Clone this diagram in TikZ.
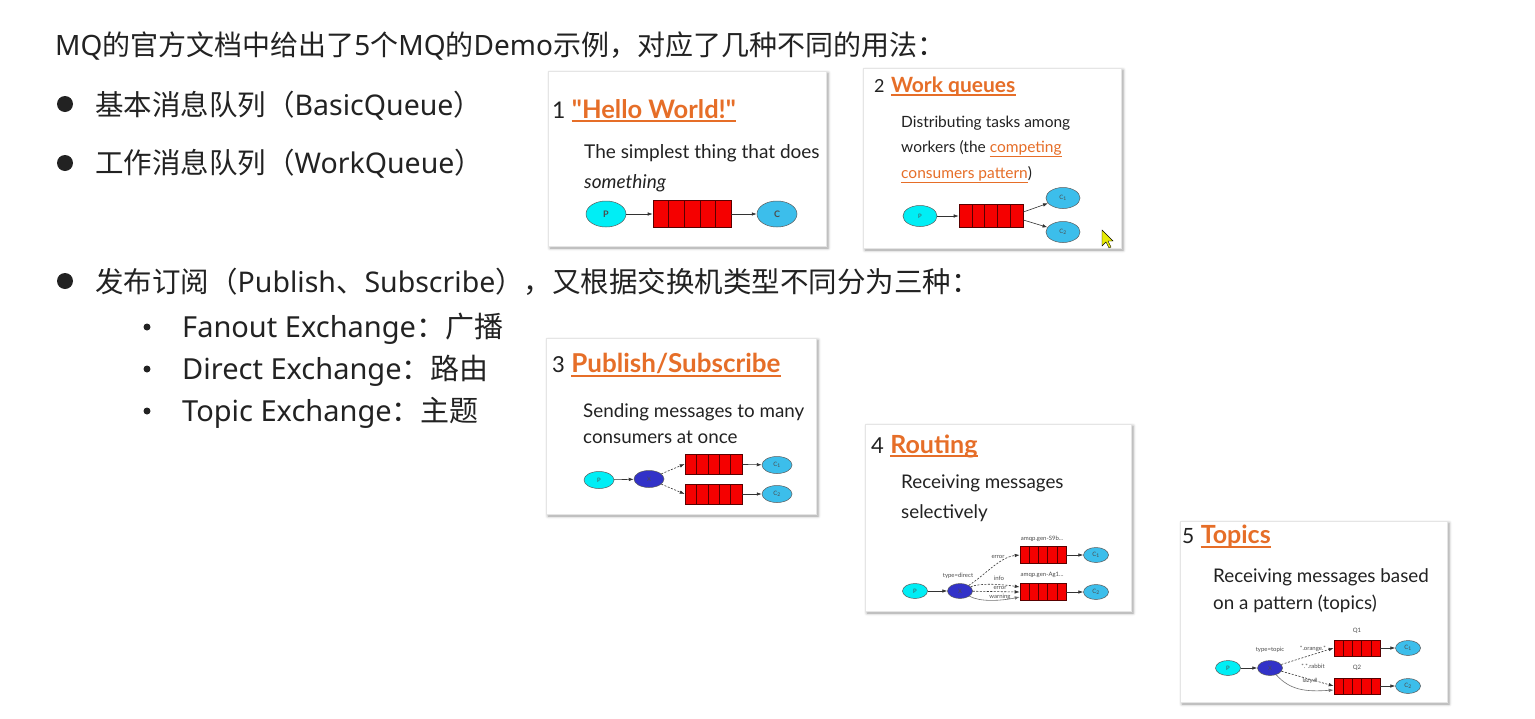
\documentclass[tikz,border=0pt]{standalone}
\usepackage{fontspec}
\setmainfont{Noto Sans CJK SC}
\newfontfamily\lat{Noto Sans}
\newfontfamily\rale{Lato}
\usetikzlibrary{arrows.meta,positioning,shapes.geometric,calc,shadows.blur}
\definecolor{mqtext}{RGB}{34,34,34}
\definecolor{mqorange}{RGB}{230,110,40}
\definecolor{mqcyan}{RGB}{0,238,245}
\definecolor{mqblue}{RGB}{60,190,235}
\definecolor{mqx}{RGB}{50,50,200}
\definecolor{mqred}{RGB}{245,0,0}

\begin{document}
\begin{tikzpicture}[x=1pt, y=-1pt,
    line/.style={anchor=base west, inner sep=0, text=mqtext, font=\fontsize{28.5}{32}\selectfont},
    sub/.style={line, font=\fontsize{29}{32}\selectfont},
    bigdot/.style={circle, fill=mqtext, minimum size=16pt, inner sep=0},
    smalldot/.style={circle, fill=mqtext, minimum size=7pt, inner sep=0},
    card/.style={fill=white, draw=black!10, blur shadow={shadow xshift=2pt, shadow yshift=-2pt, shadow blur radius=3pt, shadow opacity=40}},
    num/.style={anchor=base west, inner sep=0, text=mqtext, font=\rale\fontsize{#1}{#1}\selectfont},
    title/.style={anchor=base west, inner sep=0, text=mqorange, font=\rale\bfseries\fontsize{#1}{#1}\selectfont},
    uline/.style={draw=mqorange, line width=1.6pt},
    desc/.style={anchor=base west, inner sep=0, text=mqtext, font=\rale\fontsize{#1}{#1}\selectfont},
    proc/.style={ellipse, draw=black!65, line width=0.5pt, inner sep=0, text=black!70, font=\rale\fontsize{6}{6}\selectfont},
    prod/.style={proc, fill=mqcyan},
    cons/.style={proc, fill=mqblue},
    exch/.style={proc, fill=mqx},
    queue/.style={draw=red!35!black, fill=mqred, inner sep=0, line width=0.6pt,
      path picture={\foreach \k in {1,...,4}
        \draw[red!35!black, line width=0.6pt]
          ($(path picture bounding box.north west)!\k/5!(path picture bounding box.north east)$) --
          ($(path picture bounding box.south west)!\k/5!(path picture bounding box.south east)$);}},
    arr/.style={-{Latex[length=5pt,width=3.5pt]}, draw=black!80, line width=0.6pt},
    darr/.style={arr, dash pattern=on 2pt off 1.5pt},
    tiny/.style={inner sep=0, text=black!70, font=\rale\fontsize{6}{6}\selectfont},
]
\useasboundingbox (0,0) rectangle (1535,718);

% left column
\node[line, font=\fontsize{28}{32}\selectfont] (head) at (55,55) {{\lat MQ}的官方文档中给出了{\lat 5}个{\lat MQ}的{\lat Demo}示例，对应了几种不同的用法：};
\node[bigdot] (d1) at (65,104) {};
\node[line] (l1) at (95,115) {基本消息队列（{\lat BasicQueue}）};
\node[bigdot] (d2) at (65,163) {};
\node[line] (l2) at (95,173) {工作消息队列（{\lat WorkQueue}）};
\node[bigdot] (d3) at (65,281) {};
\node[line] (l3) at (95,292) {发布订阅（{\lat Publish}、{\lat Subscribe}），又根据交换机类型不同分为三种：};
\node[smalldot] (s1) at (147,327) {};
\node[sub] (fanout) at (182,337) {{\lat Fanout Exchange}：广播};
\node[smalldot] (s2) at (147,369) {};
\node[sub] (direct) at (182,379) {{\lat Direct Exchange}：路由};
\node[smalldot] (s3) at (147,411) {};
\node[sub] (topic) at (182,421) {{\lat Topic Exchange}：主题};

% card 1: hello world
\draw[card] (548,71) rectangle (826,246);
\node[num=23] (n1) at (552,118) {1};
\node[title=25.5, base right=6pt of n1] (t1) {"Hello World!"};
\draw[uline] ([yshift=-3pt]t1.base west) -- ([yshift=-3pt]t1.base east);
\node[desc=19] (a1) at (584,158) {The simplest thing that does};
\node[desc=19] (b1) at (584,188) {\itshape something};
\begin{scope}[proc/.append style={minimum width=40pt, minimum height=26pt, font=\rale\bfseries\fontsize{9}{9}\selectfont},
              queue/.append style={minimum width=78pt, minimum height=27pt}]
  \node[prod] (p1) at (606,214) {P};
  \node[queue] (q1) at (692,214) {};
  \node[cons] (c1) at (777,214) {C};
\end{scope}
\draw[arr] (p1) -- (q1);
\draw[arr] (q1) -- (c1);

% card 2: work queues
\draw[card] (863,68) rectangle (1121,248);
\node[num=18] (n2) at (874,92) {2};
\node[title=21, base right=6pt of n2] (t2) {Work queues};
\draw[uline, line width=1.3pt] ([yshift=-3pt]t2.base west) -- ([yshift=-3pt]t2.base east);
\node[desc=15.5] (a2) at (901,127) {Distributing tasks among};
\node[desc=15.5] (b2) at (901,152) {workers (the {\color{mqorange}\underline{competing}}};
\node[desc=15.5] (e2) at (901,178) {{\color{mqorange}\underline{consumers pattern}})};
\begin{scope}[proc/.append style={minimum width=34pt, minimum height=21pt},
              queue/.append style={minimum width=64pt, minimum height=23pt}]
  \node[prod] (p2) at (920,216) {P};
  \node[queue] (q2) at (991,216) {};
  \node[cons] (c2a) at (1063,198) {C\textsubscript{1}};
  \node[cons] (c2b) at (1063,232) {C\textsubscript{2}};
\end{scope}
\draw[arr] (p2) -- (q2);
\draw[arr] ([yshift=4pt]q2.east) -- (c2a);
\draw[arr] ([yshift=-4pt]q2.east) -- (c2b);
% mouse pointer
\filldraw[fill=yellow!90!green, draw=black, line width=0.4pt]
  (1102,230) -- (1102,246) -- (1106,242) -- (1109,248) -- (1111,247) -- (1108,241) -- (1113,241) -- cycle;

% card 3: publish/subscribe
\draw[card] (546,338) rectangle (816,514);
\node[num=22] (n3) at (552,372) {3};
\node[title=26, base right=6pt of n3] (t3) {Publish/Subscribe};
\draw[uline] ([yshift=-4pt]t3.base west) -- ([yshift=-4pt]t3.base east);
\node[desc=18.8] (a3) at (583,417) {Sending messages to many};
\node[desc=18.8] (b3) at (583,443) {consumers at once};
\begin{scope}[proc/.append style={minimum width=30pt, minimum height=17pt},
              queue/.append style={minimum width=57pt, minimum height=20pt}]
  \node[prod] (p3) at (599,480) {P};
  \node[exch] (x3) at (649,479) {X};
  \node[queue] (q3a) at (713.5,464) {};
  \node[queue] (q3b) at (713.5,494) {};
  \node[cons] (c3a) at (777,465) {C\textsubscript{1}};
  \node[cons] (c3b) at (777,494) {C\textsubscript{2}};
\end{scope}
\draw[arr] (p3) -- (x3);
\draw[darr] (x3) -- (q3a.west);
\draw[darr] (x3) -- (q3b.west);
\draw[arr] (q3a) -- (c3a);
\draw[arr] (q3b) -- (c3b);

% card 4: routing
\draw[card] (865,424) rectangle (1131,611);
\node[num=22] (n4) at (871,453) {4};
\node[title=25, base right=6pt of n4] (t4) {Routing};
\draw[uline] ([yshift=-3pt]t4.base west) -- ([yshift=-3pt]t4.base east);
\node[desc=18.8] (a4) at (901,488) {Receiving messages};
\node[desc=18.8] (b4) at (901,518) {selectively};
\begin{scope}[proc/.append style={minimum width=25pt, minimum height=15pt},
              queue/.append style={minimum width=46pt, minimum height=17pt}]
  \node[prod] (p4) at (915,591) {P};
  \node[exch] (x4) at (960,591) {X};
  \node[queue] (q4a) at (1043,555) {};
  \node[queue] (q4b) at (1043,592) {};
  \node[cons] (c4a) at (1096,555) {C\textsubscript{1}};
  \node[cons] (c4b) at (1096,592) {C\textsubscript{2}};
\end{scope}
\node[tiny] (g4a) at (1042,539) {amqp.gen-S9b...};
\node[tiny] (g4b) at (1042,575) {amqp.gen-Ag1...};
\node[tiny] (ty4) at (958,576) {type=direct};
\draw[arr] (p4) -- (x4);
\draw[darr] (x4) .. controls (985,575) and (1000,557) .. (q4a.west);
\node[tiny] (err1) at (998,557) {error};
\draw[darr] (x4) .. controls (980,583) and (1000,584) .. ([yshift=5pt]q4b.west);
\node[tiny] (info) at (999,578) {info};
\draw[darr] (x4) -- (q4b.west);
\node[tiny] (err2) at (1000,588) {error};
\draw[arr, draw=black!55] (x4) .. controls (980,602) and (1000,601) .. ([yshift=-5pt]q4b.west);
\node[tiny] (warn) at (1000,597) {warning};
\draw[arr] (q4a) -- (c4a);
\draw[arr] (q4b) -- (c4b);

% card 5: topics
\draw[card] (1180,521) rectangle (1447,702);
\node[num=21] (n5) at (1182,543) {5};
\node[title=25, base right=6pt of n5] (t5) {Topics};
\draw[uline] ([yshift=-4pt]t5.base west) -- ([yshift=-4pt]t5.base east);
\node[desc=18.8] (a5) at (1213,582) {Receiving messages based};
\node[desc=18.8] (b5) at (1213,609) {on a pattern (topics)};
\begin{scope}[proc/.append style={minimum width=25pt, minimum height=15pt},
              queue/.append style={minimum width=46pt, minimum height=16pt}]
  \node[prod] (p5) at (1228,668) {P};
  \node[exch] (x5) at (1270,668) {X};
  \node[queue] (q5a) at (1357,648) {};
  \node[queue] (q5b) at (1357,686) {};
  \node[cons] (c5a) at (1408,648) {C\textsubscript{1}};
  \node[cons] (c5b) at (1408,686) {C\textsubscript{2}};
\end{scope}
\node[tiny] (g5a) at (1357,631) {Q1};
\node[tiny] (g5b) at (1357,668) {Q2};
\node[tiny] (ty5) at (1270,650) {type=topic};
\node[tiny] (or5) at (1313,649) {*.orange.*};
\node[tiny] (rb5) at (1313,666) {*.*.rabbit};
\node[tiny] (lz5) at (1310,681) {lazy.\#};
\draw[arr] (p5) -- (x5);
\draw[darr] (x5) -- (q5a.west);
\draw[darr] (x5) -- (q5b.west);
\draw[arr, draw=black!55] (x5) .. controls (1290,690) and (1305,692) .. ([yshift=-4pt]q5b.west);
\draw[arr] (q5a) -- (c5a);
\draw[arr] (q5b) -- (c5b);
\end{tikzpicture}
\end{document}
